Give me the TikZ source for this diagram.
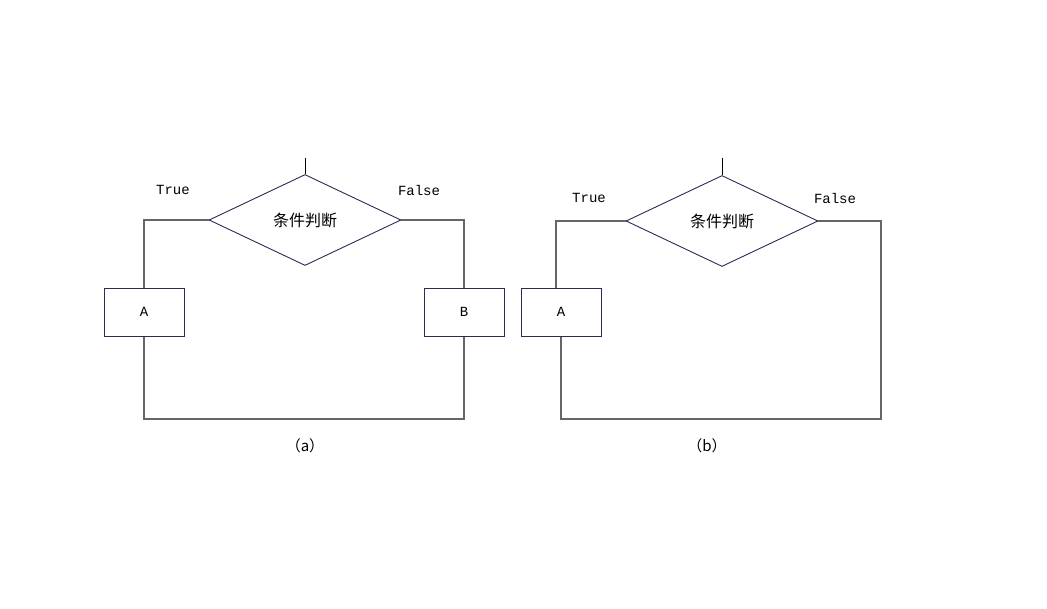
\documentclass[tikz,border=0pt]{standalone}
\usepackage{fontspec}
\setmainfont{Liberation Mono}
\newfontfamily\cjk{Noto Sans CJK SC}
\usetikzlibrary{shapes.geometric}
\definecolor{shape}{HTML}{2B2B55}
\definecolor{wire}{HTML}{666666}
\tikzset{
  decision/.style={draw=shape, line width=0.9pt, diamond, minimum width=192pt, minimum height=91pt, inner sep=0pt, font=\cjk\fontsize{16}{16}\selectfont},
  actbox/.style={draw=shape, line width=1pt, rectangle, minimum width=80pt, minimum height=48pt, inner sep=0pt, font=\fontsize{14}{14}\selectfont},
  conn/.style={draw=wire, line width=1.3pt},
  lbl/.style={font=\fontsize{14}{14}\selectfont, inner sep=0pt},
  captext/.style={font=\cjk\fontsize{15}{15}\selectfont, inner sep=0pt}
}
\begin{document}
\begin{tikzpicture}[x=1pt,y=-1pt]
\useasboundingbox (0,0) rectangle (1047,608);
% (a)
\node[decision] (da) at (305,220) {条件判断};
\coordinate (ina) at (305,158);
\node[actbox] (aa) at (144,312) {A};
\node[actbox] (ba) at (464,312) {B};
\node[lbl] (ta) at (173,190) {True};
\node[lbl] (fa) at (419,190) {False};
\node[captext] (capa) at (305,446) {（a）};
\coordinate (bla) at (144,419);
\coordinate (bra) at (464,419);
\draw[draw=black, line width=0.8pt] (ina) -- (da.north);
\draw[conn] (da.west) -| (aa.north);
\draw[conn] (da.east) -| (ba.north);
\draw[conn] (aa.south) -- (bla) -- (bra) -- (ba.south);
% (b)
\node[decision] (db) at (722,221) {条件判断};
\coordinate (inb) at (722,158);
\node[actbox] (ab) at (561,312) {A};
\node[lbl] (tb) at (589,198) {True};
\node[lbl] (fb) at (835,198) {False};
\node[captext] (capb) at (707,446) {（b）};
\coordinate (lbb) at (556,288);
\coordinate (blb) at (561,419);
\coordinate (brb) at (881,419);
\draw[draw=black, line width=0.8pt] (inb) -- (db.north);
\draw[conn] (db.west) -| (lbb);
\draw[conn] (ab.south) -- (blb) -- (brb) |- (db.east);
\end{tikzpicture}
\end{document}
